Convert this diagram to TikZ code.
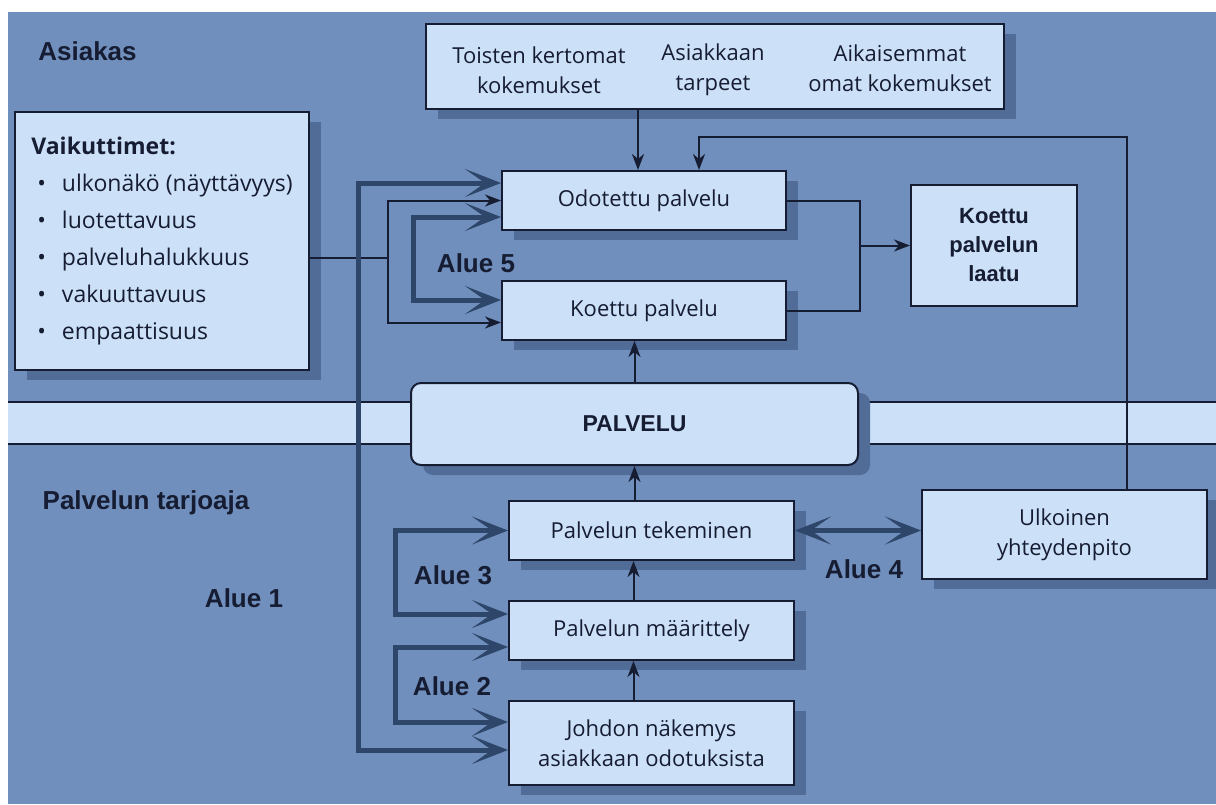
\documentclass[tikz,border=0pt]{standalone}
\usepackage{fontspec}
\setmainfont{Open Sans}
\newfontfamily\aluefont{Liberation Sans}
\usepackage{tikz}
\usetikzlibrary{arrows.meta}
\usetikzlibrary{shadows}

\definecolor{taustavari}{RGB}{112,143,188}
\definecolor{laatikkovari}{RGB}{204,225,248}
\definecolor{varjovari}{RGB}{82,108,152}
\definecolor{viivavari}{RGB}{22,28,50}
\definecolor{nuolivari}{RGB}{46,70,106}

\tikzset{
  laatikko/.style={draw=viivavari, line width=2pt, fill=laatikkovari, inner sep=0pt, align=center, text=viivavari, font=\fontsize{22}{30}\selectfont},
  varjolaatikko/.style={laatikko, drop shadow={shadow xshift=12pt, shadow yshift=-10pt, fill=varjovari, opacity=1}},
  teksti/.style={inner sep=0pt, align=center, text=viivavari, font=\fontsize{22}{30}\selectfont},
  otsikko/.style={inner sep=0pt, anchor=base, text=viivavari, font=\aluefont\bfseries\fontsize{26}{30}\selectfont},
  ohutviiva/.style={draw=viivavari, line width=2pt},
  ohutnuoli/.style={ohutviiva, arrows={-Stealth[length=16pt,width=12pt,inset=5pt]}},
  paksunuoli/.style={draw=nuolivari, line width=5pt, arrows={Stealth[length=36pt,width=28pt,inset=20pt]-Stealth[length=36pt,width=28pt,inset=20pt]}},
}

\begin{document}
\begin{tikzpicture}[x=1pt, y=-1pt]
% fixes the page
\useasboundingbox (0,0) rectangle (1216,804);
\fill[white] (0,0) rectangle (1216,804);
\fill[taustavari] (8,12) rectangle (1216,804);
% draws the band
\fill[laatikkovari] (8,402) rectangle (1216,444);
\draw[ohutviiva] (8,402) -- (1216,402);
\draw[ohutviiva] (8,444) -- (1216,444);
% draws boxes
\node[varjolaatikko, minimum width=578pt, minimum height=85pt] (kokemukset) at (715,66.5) {};
\node[teksti] (toisten) at (539,70) {Toisten kertomat\\kokemukset};
\node[teksti] (tarpeet) at (713,70) {Asiakkaan\\tarpeet};
\node[teksti] (aiemmat) at (900,68) {Aikaisemmat\\omat kokemukset};
\node[varjolaatikko, minimum width=294pt, minimum height=258pt, align=left, font=\fontsize{23}{37}\selectfont] (vaikuttimet) at (162,241)
  {{\bfseries Vaikuttimet:}\\
   \hspace*{6pt}•\hspace{16pt}ulkonäkö (näyttävyys)\\
   \hspace*{6pt}•\hspace{16pt}luotettavuus\\
   \hspace*{6pt}•\hspace{16pt}palveluhalukkuus\\
   \hspace*{6pt}•\hspace{16pt}vakuuttavuus\\
   \hspace*{6pt}•\hspace{16pt}empaattisuus};
\node[varjolaatikko, minimum width=284pt, minimum height=59pt] (odotettu) at (644,200.5) {Odotettu palvelu};
\node[varjolaatikko, minimum width=284pt, minimum height=59pt] (koettu) at (644,310.5) {Koettu palvelu};
\node[laatikko, minimum width=166pt, minimum height=121pt, font=\aluefont\bfseries\fontsize{22}{29}\selectfont] (laatu) at (994,245.5) {Koettu\\palvelun\\laatu};
\node[varjolaatikko, rounded corners=10pt, minimum width=447pt, minimum height=82pt, font=\aluefont\bfseries\fontsize{23}{28}\selectfont] (palvelu) at (634.5,424) {PALVELU};
\node[varjolaatikko, minimum width=285pt, minimum height=59pt] (tekeminen) at (651.5,530.5) {Palvelun tekeminen};
\node[varjolaatikko, minimum width=285pt, minimum height=59pt] (maarittely) at (651.5,630.5) {Palvelun määrittely};
\node[varjolaatikko, minimum width=285pt, minimum height=84pt] (johdon) at (651.5,743) {Johdon näkemys\\asiakkaan odotuksista};
\node[varjolaatikko, minimum width=285pt, minimum height=89pt] (ulkoinen) at (1064.5,534.5) {Ulkoinen\\yhteydenpito};
% bends of the connectors
\coordinate (palaute) at (699,137);
\coordinate (haara) at (388,258);
\coordinate (vertailu) at (860,245.5);
\coordinate (alue1) at (358,466);
\coordinate (alue5) at (413,258);
\coordinate (alue3) at (395,570);
\coordinate (alue2) at (395,685);
% draws thin arrows
\draw[ohutnuoli] ([xshift=-6pt]odotettu.north |- kokemukset.south) -- ([xshift=-6pt]odotettu.north);
\draw[ohutnuoli] ([xshift=62pt]ulkoinen.north) |- (palaute) -- (palaute |- odotettu.north);
\draw[ohutviiva] ([yshift=-17pt]vaikuttimet.east) -- (haara);
\draw[ohutnuoli] (haara) |- (odotettu.west);
\draw[ohutnuoli] (haara) |- ([yshift=-12pt]koettu.west);
\draw[ohutviiva] (odotettu.east) -| (vertailu) |- (koettu.east);
\draw[ohutnuoli] (vertailu) -- (laatu.west);
\draw[ohutnuoli] (palvelu.north) -- (palvelu.north |- koettu.south);
\draw[ohutnuoli] ([xshift=-17pt]tekeminen.north) -- ([xshift=-17pt]tekeminen.north |- palvelu.south);
\draw[ohutnuoli] ([xshift=-18pt]maarittely.north) -- ([xshift=-18pt]tekeminen.south);
\draw[ohutnuoli] ([xshift=-18pt]johdon.north) -- ([xshift=-18pt]maarittely.south);
% draws thick arrows
\draw[paksunuoli] ([yshift=17.5pt]odotettu.west) -| (alue1) |- ([yshift=-7pt]johdon.west);
\draw[paksunuoli] ([yshift=-16.5pt]odotettu.west) -| (alue5) |- ([yshift=10.5pt]koettu.west);
\draw[paksunuoli] (tekeminen.west) -| (alue3) |- ([yshift=16.5pt]maarittely.west);
\draw[paksunuoli] ([yshift=-16.5pt]maarittely.west) -| (alue2) |- ([yshift=21pt]johdon.west);
\draw[paksunuoli] (tekeminen.east) -- (tekeminen.east -| ulkoinen.west);
% labels areas
\node[otsikko] (asiakas) at (87.5,60) {Asiakas};
\node[otsikko] (tarjoaja) at (146,509) {Palvelun tarjoaja};
\node[otsikko] (a1) at (244,607) {Alue 1};
\node[otsikko] (a2) at (452,695) {Alue 2};
\node[otsikko] (a3) at (453,584) {Alue 3};
\node[otsikko] (a4) at (864,578) {Alue 4};
\node[otsikko] (a5) at (476,272) {Alue 5};
\end{tikzpicture}
\end{document}
